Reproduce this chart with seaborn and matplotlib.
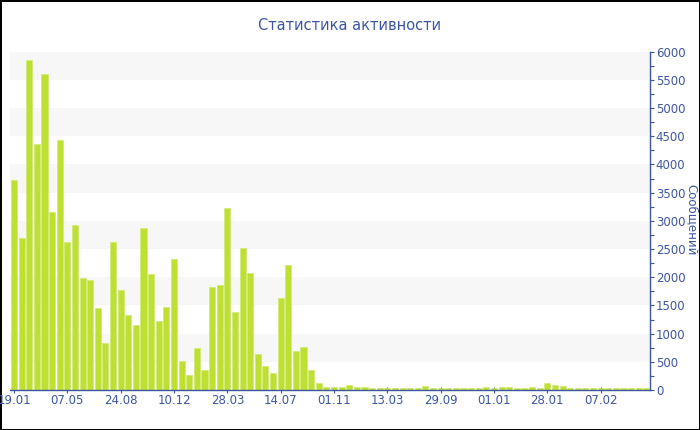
import matplotlib
matplotlib.use("Agg")
import matplotlib.pyplot as plt
from matplotlib.ticker import MultipleLocator
import numpy as np
import pandas as pd
import seaborn as sns

# ============================================================
#  Data
# ============================================================
messages = [
    3730, 2690, 5850, 4370, 5600, 3160, 4430, 2620, 2930, 1980,
    1950, 1450, 830, 2620, 1770, 1330, 1150, 2870, 2050, 1230,
    1480, 2320, 510, 270, 750, 350, 1830, 1870, 3220, 1380,
    2520, 2070, 640, 430, 300, 1640, 2210, 690, 760, 360,
    125, 60, 50, 50, 80, 45, 45, 38, 38, 38,
    38, 35, 35, 35, 70, 40, 35, 40, 40, 35,
    35, 35, 45, 35, 50, 50, 35, 35, 60, 40,
    125, 90, 75, 35, 35, 35, 35, 35, 35, 35,
    35, 40, 35, 35,
]
tick_labels = ["19.01", "07.05", "24.08", "10.12", "28.03", "14.07",
               "01.11", "13.03", "29.09", "01.01", "28.01", "07.02"]
tick_every = 7

title = "Статистика активности"
y_label = "Сообщений"

BAR = "#bde033"
BLUE = "#3d55a3"
BAND = "#f7f7f7"

df = pd.DataFrame({"period": np.arange(len(messages)), "messages": messages})

# ============================================================
#  Plot
# ============================================================
sns.set_style("white")
plt.rcParams["font.family"] = ["DejaVu Sans"]

fig = plt.figure(figsize=(7, 4.3), dpi=100)
ax = fig.add_axes([10.2 / 700, 40 / 430, 640 / 700, 338.3 / 430])

# alternating light bands behind the bars
for lo in np.arange(500, 6000, 1000):
    ax.axhspan(lo, lo + 500, color=BAND, zorder=0, lw=0)

sns.barplot(data=df, x="period", y="messages", color=BAR, saturation=1,
            width=0.8, edgecolor="#cde86a", linewidth=0.4, ax=ax, zorder=2)

ax.set_xlim(-0.5, len(messages) - 0.5)
ax.set_ylim(0, 6000)
ax.set_xticks(np.arange(0, len(tick_labels) * tick_every, tick_every))
ax.set_xticklabels(tick_labels)
ax.yaxis.set_major_locator(MultipleLocator(500))
ax.yaxis.set_minor_locator(MultipleLocator(250))
ax.yaxis.tick_right()
ax.set_xlabel("")
ax.set_ylabel("")

for side in ["left", "top"]:
    ax.spines[side].set_visible(False)
for side in ["bottom", "right"]:
    ax.spines[side].set_color(BLUE)
    ax.spines[side].set_linewidth(1)

ax.tick_params(axis="x", which="major", direction="inout", length=4, width=0.8,
               color=BLUE, labelcolor=BLUE, labelsize=8.5, pad=1, bottom=True)
ax.tick_params(axis="y", which="major", direction="out", length=3, width=0.8,
               color=BLUE, labelcolor=BLUE, labelsize=8.5, pad=1, right=True, left=False)
ax.tick_params(axis="y", which="minor", direction="out", length=3, width=0.8,
               color=BLUE, right=True, left=False)

fig.text(0.5, 1 - 25 / 430, title, ha="center", va="center",
         color=BLUE, fontsize=10.5)
fig.text(692 / 700, 1 - 220 / 430, y_label, ha="center", va="center",
         rotation=270, color=BLUE, fontsize=8.5)

fig.patch.set_edgecolor("black")
fig.patch.set_linewidth(2)
fig.savefig("out.png", dpi=100, facecolor="white", edgecolor="black")
plt.close(fig)
